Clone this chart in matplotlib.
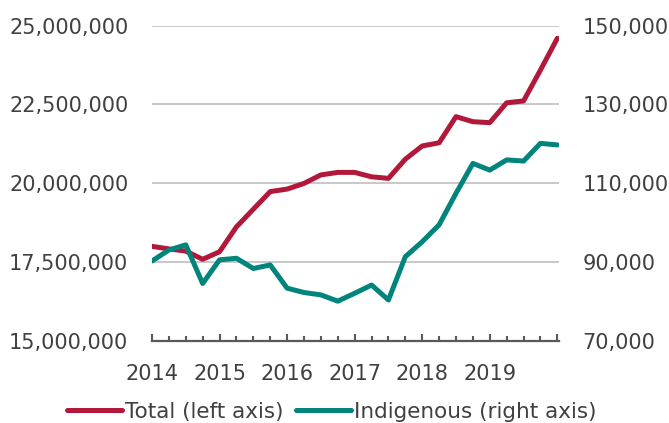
import numpy as np
import matplotlib
matplotlib.use("Agg")
import matplotlib.pyplot as plt
from matplotlib.ticker import FuncFormatter, MultipleLocator

plt.rcParams['font.family'] = ['DejaVu Sans']

# quarterly data, 2014Q1 .. 2020Q1
total = [17.99e6, 17.91e6, 17.84e6, 17.58e6, 17.82e6, 18.61e6, 19.17e6, 19.73e6,
         19.81e6, 19.99e6, 20.26e6, 20.34e6, 20.34e6, 20.20e6, 20.15e6, 20.76e6,
         21.18e6, 21.28e6, 22.11e6, 21.95e6, 21.92e6, 22.55e6, 22.61e6, 23.59e6,
         24.60e6]
indigenous = [90.2e3, 93.0e3, 94.3e3, 84.5e3, 90.5e3, 90.9e3, 88.3e3, 89.2e3,
              83.3e3, 82.2e3, 81.6e3, 80.0e3, 82.0e3, 84.1e3, 80.3e3, 91.3e3,
              95.1e3, 99.4e3, 107.4e3, 115.0e3, 113.3e3, 115.9e3, 115.6e3, 120.1e3,
              119.7e3]
years = ['2014', '2015', '2016', '2017', '2018', '2019', '']

red = '#B2183A'
teal = '#00847B'
txt = '#404040'
fs = 15

x = np.arange(len(total))

fig = plt.figure(figsize=(6.69, 4.23), dpi=100)
ax = fig.add_axes([0.2272, 0.195, 0.6084, 0.7443])
ax2 = ax.twinx()

l1, = ax.plot(x, total, color=red, lw=3.6, solid_joinstyle='round', solid_capstyle='round',
              label='Total (left axis)')
l2, = ax2.plot(x, indigenous, color=teal, lw=3.6, solid_joinstyle='round', solid_capstyle='round',
               label='Indigenous (right axis)')

ax.set_xlim(0, 24.1)
ax.set_ylim(15e6, 25e6)
ax2.set_ylim(70e3, 150e3)
ax.set_yticks(np.arange(15e6, 25.1e6, 2.5e6))
ax2.set_yticks(np.arange(70e3, 150.1e3, 20e3))
fmt = FuncFormatter(lambda v, p: f'{v:,.0f}')
ax.yaxis.set_major_formatter(fmt)
ax2.yaxis.set_major_formatter(fmt)

ax.set_xticks(np.arange(0, 25, 4))
ax.set_xticklabels(years)
ax.xaxis.set_minor_locator(MultipleLocator(1))

ax.grid(axis='y', color='#BFBFBF', lw=1.2)
ax.set_axisbelow(True)
for a in (ax, ax2):
    for s in a.spines.values():
        s.set_visible(False)
ax.spines['bottom'].set_visible(True)
ax.spines['bottom'].set_color('#595959')
ax.spines['bottom'].set_linewidth(1.6)

ax.tick_params(axis='y', length=0, pad=17, labelsize=fs, labelcolor=txt)
ax2.tick_params(axis='y', length=0, pad=17, labelsize=fs, labelcolor=txt)
ax.tick_params(axis='x', which='major', direction='in', length=5, width=1.5,
               color='#595959', pad=17, labelsize=fs, labelcolor=txt)
ax.tick_params(axis='x', which='minor', direction='in', length=3.5, width=1.5,
               color='#595959')

fig.legend(handles=[l1, l2], loc='center', bbox_to_anchor=(0.496, 0.026), ncol=2,
           frameon=False, fontsize=15.5, labelcolor=txt, handlelength=2.55,
           handletextpad=0.15, columnspacing=0.6, borderpad=0)

fig.savefig('out.png', dpi=100)
